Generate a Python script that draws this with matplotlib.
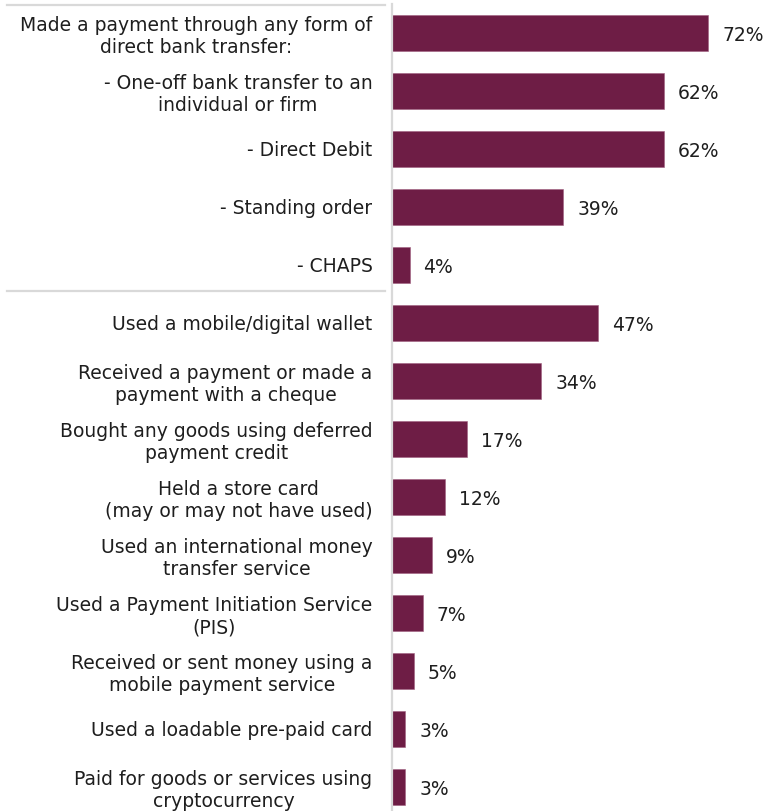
import matplotlib
matplotlib.use("Agg")
import matplotlib.pyplot as plt
import matplotlib.transforms as mtransforms

labels = [
    "Made a payment through any form of\ndirect bank transfer:",
    "- One-off bank transfer to an\nindividual or firm",
    "- Direct Debit",
    "- Standing order",
    "- CHAPS",
    "Used a mobile/digital wallet",
    "Received a payment or made a\npayment with a cheque",
    "Bought any goods using deferred\npayment credit",
    "Held a store card\n(may or may not have used)",
    "Used an international money\ntransfer service",
    "Used a Payment Initiation Service\n(PIS)",
    "Received or sent money using a\nmobile payment service",
    "Used a loadable pre-paid card",
    "Paid for goods or services using\ncryptocurrency",
]
values = [72, 62, 62, 39, 4, 47, 34, 17, 12, 9, 7, 5, 3, 3]

bar_color = "#6E1D45"
grey = "#D9D9D9"
txt = "#1E1E1E"

W, H = 767, 811
fig = plt.figure(figsize=(W / 100, H / 100), dpi=100)
# axes spans bar slots: first centre at 33px, spacing 58px
ax_left = 392 / W
ax_w = (W - 392) / W
top_px, bot_px = 4, 816
ax = fig.add_axes([ax_left, 1 - bot_px / H, ax_w, (bot_px - top_px) / H])

pos = list(range(len(values)))
ax.barh(pos, values, height=0.62, color=bar_color, edgecolor="#A0607F", linewidth=0.4)
ax.set_ylim(len(values) - 0.5, -0.5)
ax.set_xlim(0, 375 / 4.39)

for y, v in zip(pos, values):
    ax.text(v + 14 / 4.39, y + 0.04, f"{v}%", va="center", ha="left",
            fontsize=13.5, color=txt)

ax.set_yticks(pos)
ax.set_yticklabels(labels, fontsize=13.5, color=txt, ha="right",
                   multialignment="center")
ax.tick_params(axis="y", length=0, pad=14)
ax.set_xticks([])

for s in ["top", "right", "bottom"]:
    ax.spines[s].set_visible(False)
ax.spines["left"].set_color(grey)
ax.spines["left"].set_linewidth(1.6)

# grey separators across the label column
tr = mtransforms.blended_transform_factory(ax.transAxes, ax.transData)
for yl in [-0.48, 4.45]:
    ax.plot([-385 / 375, -7 / 375], [yl, yl], transform=tr, color=grey,
            linewidth=1.6, clip_on=False)

fig.savefig("out.png", dpi=100)
